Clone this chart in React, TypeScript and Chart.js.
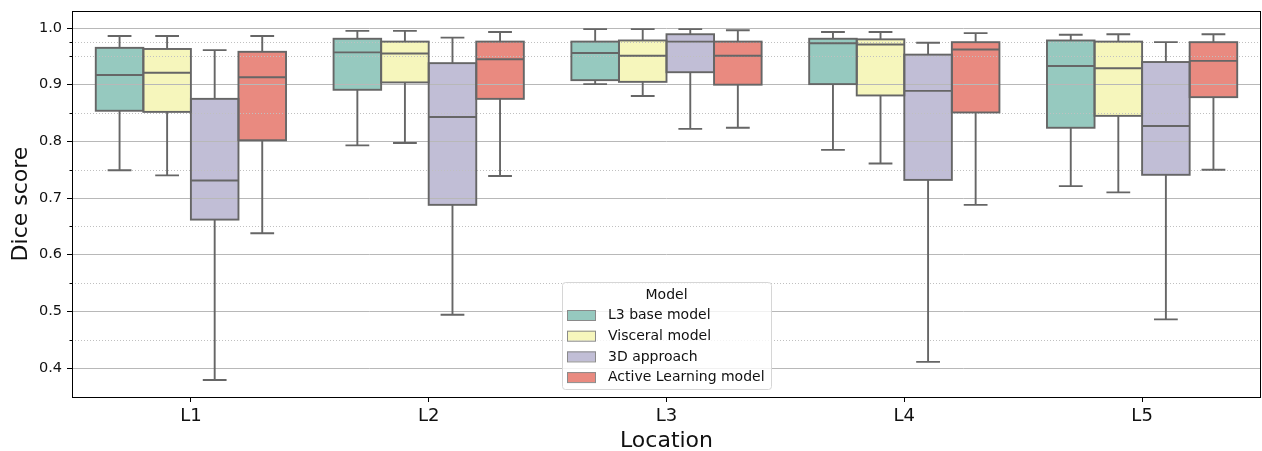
import React, { useEffect, useRef } from "react";
import { Chart, registerables } from "chart.js";

Chart.register(...registerables);

const locations = ["L1", "L2", "L3", "L4", "L5"];
const models = ["L3 base model", "Visceral model", "3D approach", "Active Learning model"];
const fillColors = ["#96c9bf", "#f6f6bc", "#c1bed6", "#e98a80"];

const majorTicks = [0.4, 0.5, 0.6, 0.7, 0.8, 0.9, 1.0];
const minorTicks = [0.45, 0.55, 0.65, 0.75, 0.85, 0.95, 0.975];

// L3 base model
const baseLow = [0.749, 0.793, 0.901, 0.785, 0.721];
const baseQ1 = [0.854, 0.891, 0.908, 0.901, 0.824];
const baseMedian = [0.917, 0.957, 0.956, 0.973, 0.933];
const baseQ3 = [0.965, 0.981, 0.976, 0.981, 0.978];
const baseHigh = [0.986, 0.995, 0.998, 0.993, 0.988];

// Visceral model
const viscLow = [0.74, 0.797, 0.88, 0.761, 0.71];
const viscQ1 = [0.852, 0.904, 0.905, 0.881, 0.845];
const viscMedian = [0.921, 0.955, 0.951, 0.971, 0.929];
const viscQ3 = [0.963, 0.976, 0.978, 0.98, 0.976];
const viscHigh = [0.986, 0.995, 0.998, 0.993, 0.989];

// 3D approach
const d3Low = [0.379, 0.494, 0.822, 0.411, 0.486];
const d3Q1 = [0.662, 0.688, 0.922, 0.732, 0.741];
const d3Median = [0.731, 0.843, 0.976, 0.889, 0.827];
const d3Q3 = [0.875, 0.938, 0.989, 0.953, 0.94];
const d3High = [0.961, 0.983, 0.998, 0.974, 0.975];

// Active Learning model
const alLow = [0.638, 0.739, 0.824, 0.688, 0.75];
const alQ1 = [0.802, 0.875, 0.9, 0.851, 0.878];
const alMedian = [0.913, 0.945, 0.951, 0.962, 0.942];
const alQ3 = [0.958, 0.976, 0.976, 0.975, 0.975];
const alHigh = [0.986, 0.993, 0.996, 0.991, 0.989];

const stats = [
  { low: baseLow, q1: baseQ1, median: baseMedian, q3: baseQ3, high: baseHigh },
  { low: viscLow, q1: viscQ1, median: viscMedian, q3: viscQ3, high: viscHigh },
  { low: d3Low, q1: d3Q1, median: d3Median, q3: d3Q3, high: d3High },
  { low: alLow, q1: alQ1, median: alMedian, q3: alQ3, high: alHigh },
];

const FONT = "'DejaVu Sans', sans-serif";
const EDGE = "#666666";

const boxPlugin = {
  id: "boxExtras",
  afterDraw(chart: any) {
    const ctx = chart.ctx;
    const y = chart.scales.y;
    const area = chart.chartArea;
    ctx.save();
    // minor dotted grid
    ctx.strokeStyle = "#c0c0c0";
    ctx.lineWidth = 1;
    ctx.setLineDash([1, 2]);
    minorTicks.forEach((v) => {
      const py = Math.round(y.getPixelForValue(v)) + 0.5;
      ctx.beginPath();
      ctx.moveTo(area.left, py);
      ctx.lineTo(area.right, py);
      ctx.stroke();
    });
    ctx.setLineDash([]);
    // minor ticks
    ctx.strokeStyle = "#000";
    minorTicks.forEach((v) => {
      const py = Math.round(y.getPixelForValue(v)) + 0.5;
      ctx.beginPath();
      ctx.moveTo(area.left - 2.5, py);
      ctx.lineTo(area.left, py);
      ctx.stroke();
    });
    // boxes, whiskers, medians
    ctx.strokeStyle = EDGE;
    ctx.lineWidth = 1.9;
    stats.forEach((s, di) => {
      const meta = chart.getDatasetMeta(di);
      meta.data.forEach((el: any, i: number) => {
        const { x, width } = el.getProps(["x", "width"], true);
        const left = x - width / 2;
        const right = x + width / 2;
        const pq1 = y.getPixelForValue(s.q1[i]);
        const pq3 = y.getPixelForValue(s.q3[i]);
        const pmed = y.getPixelForValue(s.median[i]);
        const plo = y.getPixelForValue(s.low[i]);
        const phi = y.getPixelForValue(s.high[i]);
        ctx.strokeRect(left, pq3, width, pq1 - pq3);
        ctx.beginPath();
        ctx.moveTo(left, pmed);
        ctx.lineTo(right, pmed);
        ctx.moveTo(x, pq3);
        ctx.lineTo(x, phi);
        ctx.moveTo(x - width / 4, phi);
        ctx.lineTo(x + width / 4, phi);
        ctx.moveTo(x, pq1);
        ctx.lineTo(x, plo);
        ctx.moveTo(x - width / 4, plo);
        ctx.lineTo(x + width / 4, plo);
        ctx.stroke();
      });
    });
    // frame
    ctx.strokeStyle = "#000";
    ctx.lineWidth = 1;
    ctx.strokeRect(area.left + 0.5, area.top + 0.5, area.right - area.left - 1, area.bottom - area.top);
    // legend
    const lx = 562, ly = 282, lw = 209, lh = 107;
    ctx.beginPath();
    ctx.roundRect(lx + 0.5, ly + 0.5, lw, lh, 3);
    ctx.fillStyle = "rgba(255,255,255,0.8)";
    ctx.fill();
    ctx.strokeStyle = "#d6d6d6";
    ctx.stroke();
    ctx.fillStyle = "#111";
    ctx.font = `14px ${FONT}`;
    ctx.textBaseline = "middle";
    ctx.textAlign = "center";
    ctx.fillText("Model", lx + lw / 2, ly + 13);
    ctx.textAlign = "left";
    models.forEach((m, i) => {
      const cy = 315 + i * 20.7;
      ctx.fillStyle = fillColors[i];
      ctx.fillRect(567, cy - 5, 29, 10);
      ctx.strokeStyle = "#8a8a8a";
      ctx.lineWidth = 1;
      ctx.strokeRect(567.5, cy - 5 + 0.5, 28, 10);
      ctx.fillStyle = "#111";
      ctx.fillText(m, 608, cy + 0.5);
    });
    ctx.restore();
  },
};

export default function App() {
  const ref = useRef<HTMLCanvasElement>(null);
  useEffect(() => {
    if (!ref.current) return;
    const chart = new Chart(ref.current, {
      type: "bar",
      data: {
        labels: locations,
        datasets: stats.map((s, di) => ({
          label: models[di],
          data: s.q1.map((q, i) => [q, s.q3[i]]) as any,
          backgroundColor: fillColors[di],
          borderWidth: 0,
          categoryPercentage: 0.8,
          barPercentage: 1.0,
        })),
      },
      options: {
        responsive: false,
        animation: false,
        devicePixelRatio: 1,
        layout: { padding: { left: 0, right: 1, top: 11, bottom: 0 } },
        plugins: { legend: { display: false }, tooltip: { enabled: false } },
        scales: {
          x: {
            type: "category",
            offset: true,
            afterFit: (s: any) => {
              s.height = 54;
              s.paddingLeft = 0;
              s.paddingRight = 0;
            },
            grid: {
              drawOnChartArea: false,
              offset: false,
              tickLength: 5,
              tickColor: "#000",
            },
            border: { display: false },
            ticks: { font: { family: FONT, size: 18 }, color: "#111", padding: 4 },
            title: {
              display: true,
              text: "Location",
              font: { family: FONT, size: 22, lineHeight: 1 },
              color: "#111",
              padding: { top: 0, bottom: -1 },
            },
          },
          y: {
            type: "linear",
            min: 0.349,
            max: 1.03,
            afterFit: (s: any) => {
              s.width = 72;
              s.paddingTop = 0;
              s.paddingBottom = 0;
            },
            afterBuildTicks: (s: any) => {
              s.ticks = majorTicks.map((v) => ({ value: v }));
            },
            grid: {
              color: "#b8b8b8",
              lineWidth: 1,
              tickLength: 5,
              tickColor: "#000",
              z: 1,
            },
            border: { display: false },
            ticks: {
              font: { family: FONT, size: 14.5 },
              color: "#111",
              padding: 5,
              callback: (v: any) => Number(v).toFixed(1),
            },
            title: {
              display: true,
              text: "Dice score",
              font: { family: FONT, size: 22, lineHeight: 1 },
              color: "#111",
              padding: { top: 10, bottom: 0 },
            },
          },
        },
      },
      plugins: [boxPlugin],
    });
    return () => chart.destroy();
  }, []);
  return (
    <div style={{ position: "fixed", left: 0, top: 0, width: 1262, height: 451, background: "#fff" }}>
      <canvas ref={ref} width={1262} height={451} />
    </div>
  );
}
